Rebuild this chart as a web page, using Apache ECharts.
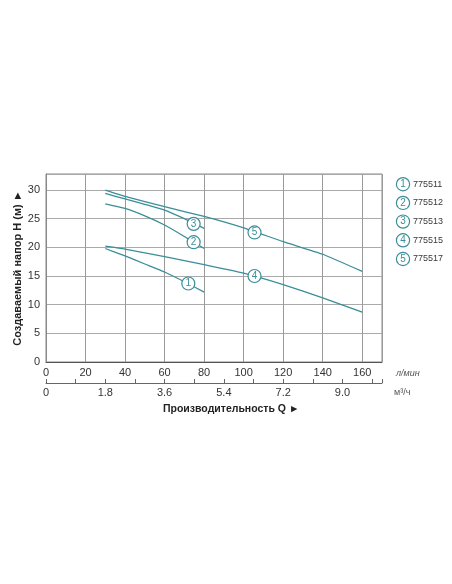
<!DOCTYPE html>
<html>
<head>
<meta charset="utf-8">
<script src="https://cdn.jsdelivr.net/npm/echarts@6/dist/echarts.min.js"></script>
<style>
html,body{margin:0;padding:0;background:#fff;}
#chart{width:452px;height:584px;}
</style>
</head>
<body>
<div id="chart"></div>
<script>
// Data (Q in l/min, H in m)
const seriesNames = ['775511', '775512', '775513', '775515', '775517'];
const seriesNumbers = ['1', '2', '3', '4', '5'];
const q1 = [30, 40, 50, 60, 70, 80];
const h1 = [19.8, 18.5, 17.1, 15.7, 14.0, 12.2];
const q2 = [30, 40, 50, 60, 70, 80];
const h2 = [27.6, 26.8, 25.5, 23.9, 21.9, 19.8];
const q3 = [30, 40, 50, 60, 70, 80];
const h3 = [29.4, 28.45, 27.5, 26.5, 25.0, 23.3];
const q4 = [30, 40, 60, 80, 100, 120, 140, 160];
const h4 = [20.2, 19.7, 18.4, 17.0, 15.5, 13.5, 11.2, 8.7];
const q5 = [30, 40, 60, 80, 100, 120, 140, 160];
const h5 = [30.0, 28.9, 27.1, 25.4, 23.4, 21.0, 18.8, 15.8];
const markerQ = [72.0, 74.7, 74.7, 105.5, 105.5];
const markerH = [13.7, 20.9, 24.1, 15.0, 22.6];
const xTicksLmin = [0, 20, 40, 60, 80, 100, 120, 140, 160];
const m3hLabels = [0, 1.8, 3.6, 5.4, 7.2, 9.0];
const yTicks = [0, 5, 10, 15, 20, 25, 30];

const qs = [q1, q2, q3, q4, q5];
const hs = [h1, h2, h3, h4, h5];
const teal = '#3b8e97';

const chart = echarts.init(document.getElementById('chart'));

const series = seriesNames.map((name, i) => ({
  name: name,
  type: 'line',
  xAxisIndex: 0,
  yAxisIndex: 0,
  data: qs[i].map((q, j) => [q, hs[i][j]]),
  smooth: 0.15,
  symbol: 'none',
  lineStyle: { color: teal, width: 1.3 },
  itemStyle: { color: teal },
  z: 3,
  markPoint: {
    symbol: 'circle',
    symbolSize: 13,
    itemStyle: { color: '#fff', borderColor: teal, borderWidth: 1.2 },
    label: {
      show: true, position: 'inside', color: teal, fontSize: 10,
      fontFamily: 'Liberation Sans',
      formatter: () => seriesNumbers[i]
    },
    data: [{ coord: [markerQ[i], markerH[i]] }]
  }
}));

chart.setOption({
  animation: false,
  backgroundColor: '#fff',
  textStyle: { fontFamily: 'Liberation Sans' },
  grid: {
    left: 46, right: 70, top: 174, bottom: 222,
    show: true, borderColor: '#888', borderWidth: 1
  },
  legend: {
    orient: 'vertical',
    left: 386,
    top: 172,
    itemWidth: 0,
    itemHeight: 0,
    itemGap: 4.3,
    itemStyle: { opacity: 0 },
    lineStyle: { opacity: 0 },
    selectedMode: false,
    data: seriesNames,
    formatter: function (name) {
      const k = seriesNames.indexOf(name);
      return '{c|' + seriesNumbers[k] + '}{n|' + name + '}';
    },
    textStyle: {
      color: '#444',
      fontSize: 9,
      rich: {
        c: {
          width: 12, height: 12, borderRadius: 7, borderWidth: 1.2,
          borderColor: teal, color: teal, backgroundColor: '#fff',
          align: 'center', verticalAlign: 'middle', fontSize: 10, lineHeight: 12
        },
        n: { color: '#3a3a3a', fontSize: 9, padding: [0, 0, 0, 4] }
      }
    }
  },
  title: {
    text: 'Производительность Q ►',
    left: 158,
    top: 399,
    textStyle: { fontSize: 10.5, fontWeight: 'bold', color: '#222', fontFamily: 'Liberation Sans' }
  },
  xAxis: [
    {
      type: 'value',
      position: 'bottom',
      min: 0, max: 170, interval: 20,
      name: 'л/мин',
      nameLocation: 'end',
      nameGap: 14,
      nameTextStyle: { color: '#555', fontSize: 9, fontStyle: 'italic', verticalAlign: 'top', padding: [7, 0, 0, 0] },
      axisLine: { show: true, lineStyle: { color: '#555', width: 1 } },
      axisTick: { show: false },
      axisLabel: {
        color: '#333', fontSize: 11, margin: 5,
        formatter: v => (xTicksLmin.indexOf(v) >= 0 ? String(v) : '')
      },
      splitLine: { show: true, lineStyle: { color: '#9a9a9a', width: 1 } }
    },
    {
      type: 'value',
      position: 'bottom',
      offset: 21,
      min: 0, max: 170, interval: 15,
      name: 'м³/ч',
      nameLocation: 'end',
      nameGap: 12,
      nameTextStyle: { color: '#555', fontSize: 9, verticalAlign: 'top', padding: [5, 0, 0, 0] },
      axisLine: { show: true, lineStyle: { color: '#666', width: 1 } },
      axisTick: { show: true, inside: true, length: 4, lineStyle: { color: '#666' } },
      axisLabel: {
        color: '#333', fontSize: 11, margin: 4,
        formatter: function (v) {
          const m = Math.round(v * 0.06 * 10) / 10;
          if (m3hLabels.indexOf(m) < 0 || v % 30 !== 0) return '';
          return m === 0 ? '0' : m.toFixed(1);
        }
      },
      splitLine: { show: false }
    }
  ],
  yAxis: {
    type: 'value',
    min: 0, max: 32.8, interval: 5,
    name: 'Создаваемый напор H (м) ►',
    nameLocation: 'middle',
    nameGap: 23,
    nameMoveOverlap: false,
    nameRotate: 90,
    nameTextStyle: { color: '#222', fontSize: 11, fontWeight: 'bold' },
    axisLine: { show: true, lineStyle: { color: '#888' } },
    axisTick: { show: false },
    axisLabel: {
      color: '#333', fontSize: 11, margin: 6,
      formatter: v => (yTicks.indexOf(v) >= 0 ? String(v) : '')
    },
    splitLine: { show: true, lineStyle: { color: '#aaa', width: 1 } }
  },
  series: series
});
</script>
</body>
</html>
